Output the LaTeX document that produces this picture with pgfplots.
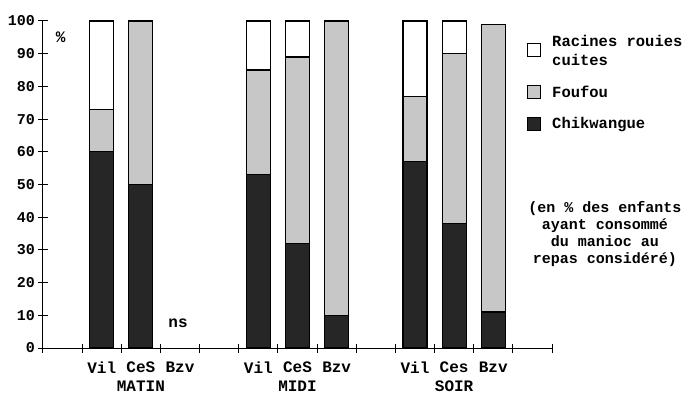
\documentclass[border=0pt]{standalone}
\usepackage{pgfplots}
\pgfplotsset{compat=1.18}
\usepackage{fontspec}
\setmainfont{Liberation Mono}
\pgfplotstableread{
x chik fou rac
1.5 60 13 27
2.5 50 50 0
5.5 53 32 15
6.5 32 57 11
7.5 10 90 0
9.5 57 20 23
10.5 38 52 10
11.5 11 88 0
}\data
\begin{document}
\begin{tikzpicture}[font=\bfseries\fontsize{16}{18}\selectfont]
\useasboundingbox (-43pt,-49pt) rectangle (648pt,348pt);
\begin{axis}[
  at={(0,0)}, anchor=south west,
  scale only axis, width=509pt, height=327pt,
  xmin=0, xmax=13, ymin=0, ymax=100,
  clip=false,
  axis x line=bottom, axis y line=left,
  axis line style={-, line width=1pt},
  xtick={0,...,13}, xticklabels={},
  extra x ticks={1.5,2.5,3.5,5.5,6.5,7.5,9.5,10.5,11.5},
  extra x tick labels={Vil,{CeS\\MATIN},Bzv,Vil,{CeS\\MIDI},Bzv,Vil,{Ces\\SOIR},Bzv},
  extra x tick style={major tick length=0pt, tick style={draw=none}},
  xticklabel style={align=center, anchor=north, yshift=-10pt, font=\bfseries\fontsize{16}{19}\selectfont},
  ytick={0,10,...,100},
  yticklabel style={font=\bfseries\fontsize{15}{18}\selectfont},
  /pgf/number format/assume math mode=true,
  tick align=center, major tick length=9pt,
  tick style={black, line width=1pt},
  ybar stacked, bar width=24pt,
  reverse legend,
  legend cell align=left,
  legend style={draw=none, fill=none, at={(rel axis cs:0.945,0.97)}, anchor=north west,
    font=\bfseries\fontsize{15.5}{19}\selectfont,
    nodes={align=left, inner sep=2pt}, row sep=15pt},
  legend image code/.code={\draw[#1, line width=1pt] (0pt,-6pt) rectangle (13pt,7pt);},
  legend style={/tikz/every odd column/.append style={column sep=9pt}},
]
\addplot[draw=black, line width=1.2pt, fill=black!85] table[x=x, y=chik] {\data};
\addlegendentry{Chikwangue}
\addplot[draw=black, line width=1.2pt, fill=black!22] table[x=x, y=fou] {\data};
\addlegendentry{Foufou}
\addplot[draw=black, line width=1.2pt, fill=white] table[x=x, y=rac] {\data};
\addlegendentry{Racines rouies\\cuites}
\node[anchor=center] at (axis cs:0.45,95) {\%};
\node[anchor=center] at (axis cs:3.45,7.6) {ns};
\node[align=center, anchor=center, inner sep=0pt, font=\bfseries\fontsize{15}{17}\selectfont] at (rel axis cs:1.104,0.35) {(en \% des enfants\\ayant consommé\\du manioc au\\repas considéré)};
\end{axis}
\end{tikzpicture}
\end{document}
